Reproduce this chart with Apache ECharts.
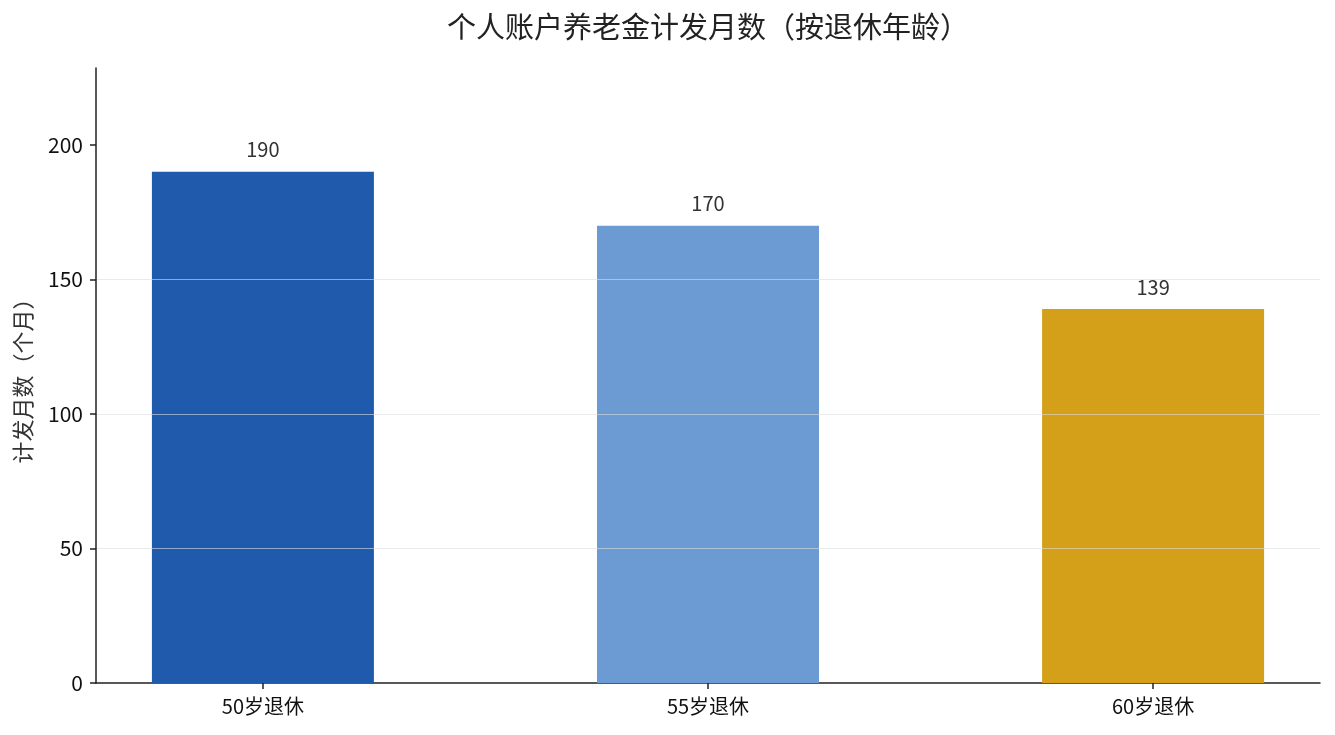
<!DOCTYPE html>
<html>
<head>
<meta charset="utf-8">
<script src="https://cdn.jsdelivr.net/npm/echarts@6/dist/echarts.min.js"></script>
<style>
  html, body { margin: 0; padding: 0; background: #fff; }
  #main { width: 1335px; height: 735px; }
</style>
</head>
<body>
<div id="main"></div>
<script>
// 数据
var categories = ['50岁退休', '55岁退休', '60岁退休'];
var months = [190, 170, 139];
var barColors = ['#1f5aad', '#6b9bd2', '#d4a019'];
var yTicks = [0, 50, 100, 150, 200];

var FONT = '"Noto Sans CJK SC", "Noto Sans", sans-serif';

var chart = echarts.init(document.getElementById('main'));

var barData = months.map(function (v, i) {
    return { value: [i, v], itemStyle: { color: barColors[i] } };
});

var option = {
    animation: false,
    title: {
        text: '个人账户养老金计发月数（按退休年龄）',
        left: 442,
        top: 7,
        textStyle: { fontFamily: FONT, fontSize: 29, fontWeight: 'normal', color: '#222' }
    },
    grid: { left: 96, right: 15, top: 68, bottom: 52 },
    xAxis: {
        type: 'value',
        min: -0.375,
        max: 2.375,
        axisLine: { show: true, lineStyle: { color: '#222', width: 1.5 } },
        axisTick: { show: true, customValues: [0, 1, 2], length: 6, lineStyle: { color: '#222', width: 1.5 } },
        axisLabel: {
            customValues: [0, 1, 2],
            formatter: function (v) { return categories[Math.round(v)]; },
            fontFamily: FONT, fontSize: 20, color: '#111', margin: 13
        },
        splitLine: { show: false }
    },
    yAxis: {
        type: 'value',
        min: 0,
        max: 228.6,
        z: 5,
        name: '计发月数（个月）',
        nameLocation: 'middle',
        nameGap: 62,
        nameRotate: 90,
        nameTextStyle: { fontFamily: FONT, fontSize: 22, color: '#333' },
        axisLine: { show: true, onZero: false, lineStyle: { color: '#222', width: 1.5 } },
        axisTick: { show: true, customValues: yTicks, length: 6, lineStyle: { color: '#222', width: 1.5 } },
        axisLabel: { customValues: yTicks, fontFamily: FONT, fontSize: 21, color: '#111', margin: 13 },
        splitLine: {
            show: true,
            showMinLine: false,
            showMaxLine: false,
            lineStyle: { color: 'rgba(220,220,220,0.6)', width: 1 }
        },
        interval: 50
    },
    series: [{
        type: 'bar',
        data: barData,
        barWidth: 222,
        z: 2,
        label: {
            show: true,
            position: 'top',
            distance: 12,
            formatter: function (p) { return p.value[1]; },
            fontFamily: FONT, fontSize: 20, color: '#333'
        }
    }]
};

chart.setOption(option);
</script>
</body>
</html>
